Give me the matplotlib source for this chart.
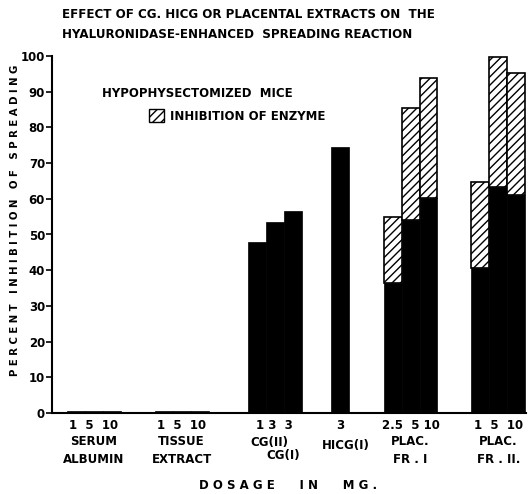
import numpy as np
import matplotlib
matplotlib.use('Agg')
import matplotlib.pyplot as plt
from matplotlib.patches import Patch

# dosage labels and group names
group_doses = ['1  5  10', '1  5  10', '1 3  3', '3', '2.5  5 10', '1  5  10']
group_names = ['SERUM\nALBUMIN', 'TISSUE\nEXTRACT', None, 'HICG(I)', 'PLAC.\nFR . I', 'PLAC.\nFR . II.']

# black part of each bar (percent inhibition)
serum = [0.6, 0.6, 0.6]
tissue = [0.6, 0.6, 0.6]
cg = [48.0, 53.6, 56.7]
hicg = [74.6]
plac1_base = [36.4, 54.1, 60.3]
plac2_base = [40.5, 63.4, 61.2]
# top of hatched part (inhibition of enzyme)
plac1_top = [54.9, 85.5, 93.9]
plac2_top = [64.8, 99.7, 95.3]

plt.rcParams['font.family'] = 'DejaVu Sans'
plt.rcParams['font.weight'] = 'bold'
plt.rcParams['hatch.linewidth'] = 1.0

fig = plt.figure(figsize=(5.32, 4.94), dpi=100)
ax = fig.add_axes([52/532, 81/494, 474/532, 357/494])

# left edge of each group, in bar widths
starts = [0.84, 5.75, 10.95, 15.6, 18.55, 23.45]
blacks = [serum, tissue, cg, hicg, plac1_base, plac2_base]
tops = [None, None, None, None, plac1_top, plac2_top]

for s, base, top in zip(starts, blacks, tops):
    x = s + np.arange(len(base)) + 0.5
    ax.bar(x, base, width=1.0, color='black', edgecolor='black', lw=0.5)
    if top is not None:
        ax.bar(x, np.array(top) - np.array(base), bottom=base, width=1.0,
               color='white', edgecolor='black', hatch='////', lw=1.2)

ax.set_xlim(0, 26.5)
ax.set_ylim(0, 100)
ax.set_yticks(np.arange(0, 101, 10))
ax.tick_params(axis='y', direction='out', length=4, width=1.2, labelsize=8.5, pad=1)
ax.set_xticks([])
for lab in ax.get_yticklabels():
    lab.set_fontweight('bold')
ax.spines['top'].set_visible(False)
ax.spines['right'].set_visible(False)
ax.spines['left'].set_linewidth(1.5)
ax.spines['bottom'].set_linewidth(1.5)

tr = ax.get_xaxis_transform()
for s, d, name, base in zip(starts, group_doses, group_names, blacks):
    cx = s + len(base) / 2
    ax.text(cx, -0.034, d, transform=tr, ha='center', va='center', fontsize=8.5)
    if name is None:
        continue
    if '\n' in name:
        ax.text(cx, -0.105, name, transform=tr, ha='center', va='center',
                fontsize=8.5, linespacing=1.5)
    else:
        ax.text(cx + 0.3, -0.092, name, transform=tr, ha='center', va='center', fontsize=8.5)
ax.text(starts[2] + 1.2, -0.084, 'CG(II)', transform=tr, ha='center', va='center', fontsize=8.5)
ax.text(starts[2] + 2.0, -0.12, 'CG(I)', transform=tr, ha='center', va='center', fontsize=8.5)

fig.text(288/532, 1 - 485/494, 'D O S A G E      I N      M G .', ha='center', va='center', fontsize=8.5)
fig.text(15/532, 1 - 220/494, 'P E R C E N T   I N H I B I T I O N   O F   S P R E A D I N G',
         rotation=90, ha='center', va='center', fontsize=7.3)

fig.text(62/532, 1 - 15/494, 'EFFECT OF CG. HICG OR PLACENTAL EXTRACTS ON  THE',
         ha='left', va='center', fontsize=8.6)
fig.text(62/532, 1 - 34/494, 'HYALURONIDASE-ENHANCED  SPREADING REACTION',
         ha='left', va='center', fontsize=8.6)

fig.text(102/532, 1 - 93/494, 'HYPOPHYSECTOMIZED  MICE', ha='left', va='center', fontsize=8.5)
ax.legend(handles=[Patch(facecolor='white', edgecolor='black', hatch='////')],
          labels=['INHIBITION OF ENZYME'], loc='center left',
          bbox_to_anchor=(138/532, 1 - 116/494), bbox_transform=fig.transFigure,
          frameon=False, handlelength=1.3, handleheight=1.3, handletextpad=0.5,
          prop={'size': 8.5, 'weight': 'bold'})

fig.savefig('out.png', dpi=100)
